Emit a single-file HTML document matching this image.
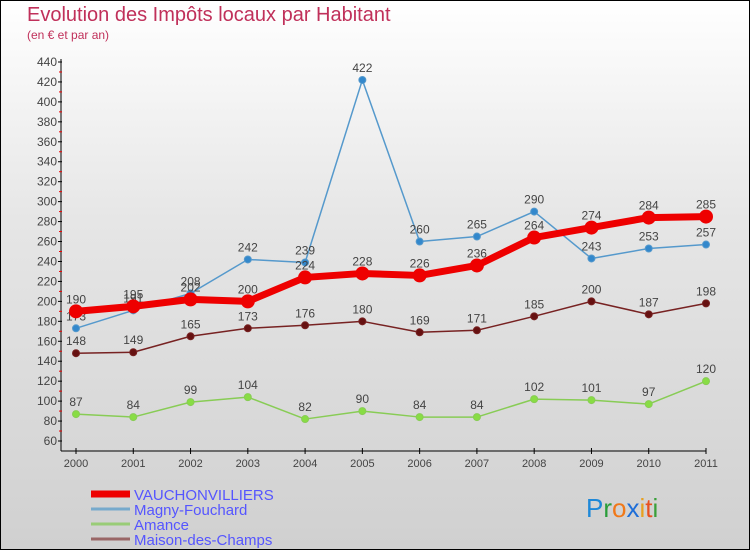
<!DOCTYPE html>
<html><head><meta charset="utf-8">
<style>
body{margin:0;}
#c{position:relative;width:748px;height:548px;border:1px solid #000;background:linear-gradient(#ffffff 0%,#e6e6e6 40%,#d0d0d0 100%);overflow:hidden;font-family:"Liberation Sans","DejaVu Sans",sans-serif;}
.t{position:absolute;left:26px;top:3px;font-size:20px;color:#c0305a;font-weight:300}
.s{position:absolute;left:26px;top:27px;font-size:12px;color:#c0305a}
</style></head><body>
<div id="c">
<div class="t">Evolution des Impôts locaux par Habitant</div>
<div class="s">(en € et par an)</div>
<svg id="svg" width="748" height="548" style="position:absolute;left:0;top:0"></svg>
</div>
<script>
const years=["2000","2001","2002","2003","2004","2005","2006","2007","2008","2009","2010","2011"];
const vauch=[190,195,202,200,224,228,226,236,264,274,284,285];
const magny=[173,191,208,242,239,422,260,265,290,243,253,257];
const amance=[87,84,99,104,82,90,84,84,102,101,97,120];
const maison=[148,149,165,173,176,180,169,171,185,200,187,198];
const yTicks=[60,80,100,120,140,160,180,200,220,240,260,280,300,320,340,360,380,400,420,440];
const NS="http://www.w3.org/2000/svg";
const svg=document.getElementById('svg');
const x=i=>75+i*(630/11);
const y=v=>61+(440-v)*(379/380);
function el(t,a,p){const e=document.createElementNS(NS,t);for(const k in a)e.setAttribute(k,a[k]);(p||svg).appendChild(e);return e;}
const ax=el('g',{});


el('line',{x1:60,y1:58,x2:60,y2:450,stroke:'#000'},ax);
el('line',{x1:60,y1:450,x2:705,y2:450,stroke:'#000'},ax);
yTicks.forEach((v,i)=>{
 el('line',{x1:57,x2:61,y1:y(v),y2:y(v),stroke:'#000'},ax);
 if(i<yTicks.length-1) el('line',{x1:58,x2:61,y1:y(v+10),y2:y(v+10),stroke:'#e00'},ax);
 const t=el('text',{x:56,y:y(v)+4,'text-anchor':'end','font-size':12,fill:'#444'},ax);t.textContent=v;
 
 
});
years.forEach((yr,i)=>{
 el('line',{x1:x(i),x2:x(i),y1:447,y2:453,stroke:'#000'},ax);
 const t=el('text',{x:x(i),y:466,'text-anchor':'middle','font-size':11,fill:'#444'},ax);t.textContent=yr;
 
 
});
function series(data,color,w,r,name,fill){
 const g=el('g',{});
 
 
 el('polyline',{points:data.map((v,i)=>x(i)+','+y(v)).join(' '),fill:'none',stroke:color,'stroke-width':w,'stroke-linejoin':'round'},g);
 data.forEach((v,i)=>{
  const c=el('circle',{cx:x(i),cy:y(v),r:r,fill:fill,stroke:color,'stroke-width':1},g);
  
  
  const t=el('text',{x:x(i),y:y(v)-8,'text-anchor':'middle','font-size':12,fill:'#444'},g);t.textContent=v;
  
  
 });
}
series(amance,'#88cc55',1.5,3.5,'series-amance','#88dd44');
series(maison,'#772222',1.5,3.5,'series-maison','#661111');
series(magny,'#5599cc',1.5,3.5,'series-magny','#3388cc');
series(vauch,'#ee0000',7,6.5,'series-vauchonvilliers','#ee0000');
const lg=el('g',{});


[['VAUCHONVILLIERS','#ee0000',7],['Magny-Fouchard','#77aacc',3],['Amance','#99cc77',3],['Maison-des-Champs','#996666',3]].forEach((d,i)=>{
 const yy=493+i*15;
 el('line',{x1:90,x2:129,y1:yy,y2:yy,stroke:d[1],'stroke-width':d[2]},lg);
 const t=el('text',{x:133,y:yy+6,'font-size':15,fill:'#5555ff'},lg);t.textContent=d[0];
 
 
});
const p=el('text',{x:585,y:516,'font-size':26});


[['P','#1e88d8'],['r','#2a9d3a'],['o','#f07818'],['x','#1e6ed8'],['i','#e8a020'],['t','#e85020'],['i','#3aa03a']].forEach(d=>{const s=el('tspan',{fill:d[1]},p);s.textContent=d[0];});
</script>
</body></html>
